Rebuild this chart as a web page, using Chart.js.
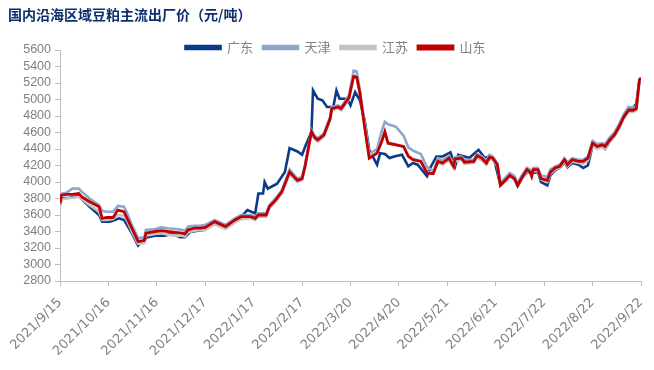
<!DOCTYPE html>
<html><head><meta charset="utf-8">
<script src="https://cdn.jsdelivr.net/npm/chart.js@4/dist/chart.umd.min.js"></script>
<style>html,body{margin:0;padding:0;background:#fff;}#wrap{width:654px;height:370px;}</style>
</head><body><div id="wrap"><canvas id="c" width="654" height="370"></canvas></div>
<script>
const titleText = '国内沿海区域豆粕主流出厂价（元/吨）';
const seriesNames = ['广东', '天津', '江苏', '山东'];
const xLabels = ['2021/9/15','2021/10/16','2021/11/16','2021/12/17','2022/1/17','2022/2/17','2022/3/20','2022/4/20','2022/5/21','2022/6/21','2022/7/22','2022/8/22','2022/9/22'];
const yTicks = {min: 2800, max: 5600, step: 200};

// day index (days since 2021/9/15)
const gdDays = [0,1,6,12,14,19,25,27,32,35,38,41,46,50,52,56,61,67,72,77,80,83,88,93,99,106,112,116,120,125,127,130,131,133,139,144,147,152,155,157,161,162,165,168,171,175,177,179,184,186,189,192,195,198,203,205,208,211,214,219,223,226,229,235,237,241,245,250,253,255,259,262,268,272,275,278,282,285,288,291,293,296,299,303,306,308,312,314,317,320,323,325,328,332,335,338,341,344,347,349,352,355,358,361,364,367,369,371,372];
const gdVals = [3720,3800,3810,3830,3790,3700,3600,3520,3520,3540,3560,3540,3380,3230,3270,3330,3350,3350,3370,3330,3330,3390,3410,3420,3500,3440,3520,3580,3660,3620,3860,3860,4000,3920,3980,4120,4410,4370,4330,4430,4610,5110,5010,4990,4910,4910,5110,5010,5010,4930,5090,4990,4750,4390,4210,4350,4340,4290,4310,4330,4190,4230,4210,4070,4170,4310,4310,4360,4190,4330,4310,4290,4390,4290,4310,4270,3960,4010,4070,4030,3950,4050,4120,4110,4120,4000,3960,4080,4140,4170,4240,4180,4230,4210,4170,4200,4440,4430,4430,4400,4490,4560,4660,4800,4900,4900,4950,5230,5250];

const sdDays = [0,1,4,8,12,14,19,25,27,30,34,37,41,43,46,50,54,55,61,65,69,74,78,80,82,86,90,93,99,106,112,116,122,125,127,132,134,138,142,147,152,155,157,161,163,165,169,173,174,178,180,185,188,190,192,195,198,203,206,208,210,215,220,223,226,231,235,239,242,245,249,252,253,257,259,265,267,270,273,275,277,280,282,285,288,291,293,296,299,301,302,303,306,308,312,314,317,320,323,325,328,332,335,338,341,344,347,349,352,355,358,361,364,367,369,371,372];
const sdVals = [3740,3840,3850,3850,3860,3820,3760,3700,3560,3570,3570,3660,3640,3560,3440,3280,3290,3380,3400,3410,3400,3390,3380,3370,3420,3440,3440,3450,3520,3460,3540,3580,3580,3560,3600,3600,3700,3780,3880,4120,4020,4040,4200,4610,4540,4510,4570,4770,4890,4910,4890,5020,5280,5270,5080,4670,4290,4350,4490,4610,4470,4450,4430,4310,4270,4250,4110,4100,4250,4230,4290,4190,4280,4290,4240,4250,4320,4290,4230,4300,4290,4210,3960,4020,4080,4040,3960,4060,4150,4120,4070,4150,4150,4040,4020,4120,4170,4190,4270,4210,4270,4250,4250,4290,4470,4430,4450,4430,4510,4570,4670,4790,4870,4870,4890,5240,5260];

const tjVals = [3760,3860,3870,3920,3920,3880,3800,3720,3650,3640,3640,3710,3700,3620,3480,3320,3330,3420,3430,3450,3440,3430,3420,3410,3460,3470,3470,3480,3540,3480,3560,3600,3600,3580,3620,3620,3720,3800,3900,4150,4040,4060,4220,4630,4560,4530,4590,4790,4910,4930,4910,5050,5350,5340,5120,4720,4340,4400,4620,4730,4700,4670,4560,4420,4380,4340,4180,4130,4290,4260,4320,4220,4300,4310,4270,4270,4340,4310,4260,4330,4310,4230,3990,4050,4110,4070,3990,4090,4170,4150,4100,4170,4170,4080,4060,4150,4190,4210,4290,4240,4290,4270,4270,4310,4500,4460,4470,4460,4540,4600,4700,4820,4910,4900,4920,5240,5260];

const jsVals = [3700,3790,3800,3810,3820,3790,3720,3640,3540,3540,3550,3600,3590,3530,3400,3250,3260,3350,3370,3380,3360,3350,3350,3340,3390,3410,3420,3420,3490,3430,3510,3550,3560,3540,3580,3580,3680,3760,3860,4100,4000,4020,4180,4590,4520,4490,4550,4750,4870,4890,4870,5000,5300,5280,5080,4700,4320,4360,4500,4600,4480,4460,4430,4320,4280,4260,4120,4110,4230,4210,4260,4170,4250,4270,4220,4230,4300,4260,4210,4280,4270,4190,3960,4010,4070,4030,3960,4050,4130,4110,4060,4130,4130,4030,4000,4100,4150,4170,4250,4190,4250,4230,4220,4260,4440,4400,4420,4400,4490,4550,4650,4770,4850,4850,4870,5220,5240];

function pts(days, vals){ return days.map((d,i)=>({x:d, y:vals[i]})); }

const colors = ['#0b3a8a', '#8fa6cc', '#c3c3c3', '#c00000'];
const dataSets = [pts(gdDays, gdVals), pts(sdDays, tjVals), pts(sdDays, jsVals), pts(sdDays, sdVals)];

const titlePlugin = {
  id: 'titleText',
  beforeInit(chart) {
    const lg = chart.legend;
    if (lg) {
      const fit = lg.fit;
      lg.fit = function() { fit.call(this); this.height = 20; };
      const draw = lg.draw;
      lg.draw = function() {
        const ctx = this.ctx;
        const oc = ctx.clip;
        ctx.clip = function() {};
        ctx.save();
        ctx.translate(15, 1);
        draw.call(this);
        ctx.restore();
        ctx.clip = oc;
      };
    }
  },
  afterDraw(chart) {
    const ctx = chart.ctx;
    ctx.save();
    ctx.font = 'bold 14px "Noto Sans CJK SC"';
    ctx.fillStyle = '#0d2f6e';
    ctx.textBaseline = 'middle';
    ctx.textAlign = 'left';
    ctx.fillText(titleText, 8, 15);
    ctx.restore();
  }
};

const chart = new Chart(document.getElementById('c'), {
  type: 'line',
  data: {
    datasets: seriesNames.map((n,i)=>({
      label: n, data: dataSets[i], borderColor: colors[i], backgroundColor: colors[i],
      borderWidth: i===3 ? 2.8 : 2.6, pointRadius: 0, tension: 0, order: 3 - i
    }))
  },
  plugins: [titlePlugin],
  options: {
    responsive: false, animation: false,
    layout: {padding: {left: 0, right: 13, top: 30, bottom: 0}},
    plugins: {
      title: {display: false},
      legend: {display: true, position: 'top', align: 'center',
        labels: {boxWidth: 35, boxHeight: 3, color: '#808080', padding: 10,
          sort: (a, b) => a.datasetIndex - b.datasetIndex,
          font: {family: '"Noto Sans CJK SC"', size: 13}},
      },
      tooltip: {enabled: false}
    },
    scales: {
      x: {type: 'linear', min: 0, max: 372,
        ticks: {stepSize: 31, autoSkip: false, maxRotation: 45, minRotation: 45, color: '#7f7f7f',
          padding: 9,
          font: {family: '"DejaVu Sans", Arial', size: 13},
          callback: (v) => xLabels[Math.round(v/31)]},
        grid: {drawOnChartArea: false, drawTicks: true, tickLength: 5, color: '#bfbfbf'},
        border: {color: '#bfbfbf'},
        afterFit: (s) => { s.height = 89; s.paddingRight = 0; s.paddingLeft = 0; }
      },
      y: {min: yTicks.min, max: yTicks.max,
        ticks: {stepSize: yTicks.step, autoSkip: false, color: '#7f7f7f',
          font: {family: 'Arial, "Liberation Sans"', size: 12.5}, padding: 4,
          callback: (v) => String(v)},
        grid: {drawOnChartArea: false, drawTicks: true, tickLength: 5, color: '#bfbfbf'},
        border: {color: '#bfbfbf'},
        afterFit: (s) => { s.width = 60; }
      }
    }
  }
});
</script></body></html>
